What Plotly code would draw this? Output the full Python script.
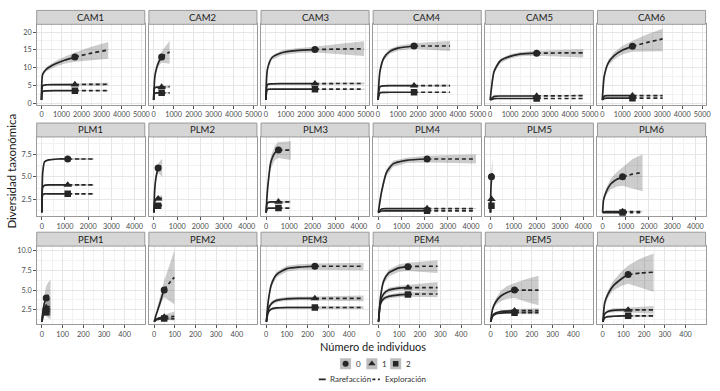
import plotly.graph_objects as go

# ---------------- data ----------------
SITES = ["CAM1", "CAM2", "CAM3", "CAM4", "CAM5", "CAM6",
         "PLM1", "PLM2", "PLM3", "PLM4", "PLM5", "PLM6",
         "PEM1", "PEM2", "PEM3", "PEM4", "PEM5", "PEM6"]

# observed sample size (end of rarefaction / position of the symbol)
N_OBS = [1672, 400, 2459, 1805, 2330, 1510,
         1118, 180, 532, 2105, 45, 862,
         21, 49, 235, 143, 116, 123]

# sample sizes at which curves were read
M = [
    [1, 60, 250, 700, 1150, 1672, 2500, 3344],
    [1, 20, 60, 150, 270, 400, 600, 800],
    [1, 80, 300, 800, 1500, 2459, 3700, 4918],
    [1, 100, 300, 600, 1000, 1805, 2700, 3610],
    [1, 200, 500, 1000, 1500, 2330, 3500, 4660],
    [1, 100, 300, 600, 1000, 1510, 2260, 3020],
    [1, 40, 120, 300, 700, 1118, 1680, 2236],
    [1, 15, 40, 80, 130, 180, 270, 360],
    [1, 40, 100, 200, 380, 532, 800, 1064],
    [1, 140, 355, 640, 1210, 2105, 3150, 4210],
    [1, 5, 12, 22, 34, 45, 68, 90],
    [1, 40, 150, 350, 600, 862, 1290, 1724],
    [1, 3, 6, 10, 15, 21, 32, 42],
    [1, 8, 18, 28, 38, 49, 74, 98],
    [1, 10, 25, 50, 100, 160, 235, 350, 470],
    [1, 10, 25, 50, 100, 143, 215, 286],
    [1, 10, 25, 50, 80, 116, 174, 232],
    [1, 10, 25, 50, 90, 123, 185, 246],
]

# order q = 0
Q0 = [
    [1, 8.2, 9.6, 11.1, 12.1, 13.0, 14.1, 15.0],
    [1, 4.0, 7.5, 10.0, 11.8, 13.0, 13.8, 14.4],
    [1, 9.5, 12.8, 14.2, 14.8, 15.1, 15.25, 15.3],
    [1, 9.0, 12.8, 14.6, 15.5, 16.1, 16.1, 16.1],
    [1, 9.0, 11.9, 13.2, 13.8, 14.1, 14.15, 14.2],
    [1, 7.7, 11.4, 13.4, 14.9, 16.0, 17.1, 18.1],
    [1, 5.5, 6.7, 6.9, 7.0, 7.0, 7.0, 7.0],
    [1, 2.5, 3.8, 4.8, 5.5, 6.0, 6.2, 6.3],
    [1, 2.9, 4.6, 6.6, 7.7, 8.0, 8.0, 8.0],
    [1, 3.3, 5.5, 6.45, 6.85, 7.0, 7.0, 7.0],
    [1, 1.9, 2.8, 3.7, 4.4, 5.0, 5.4, 5.7],
    [1, 2.4, 3.3, 4.2, 4.7, 5.0, 5.3, 5.5],
    [1, 1.8, 2.5, 3.1, 3.6, 4.0, 4.4, 4.6],
    [1, 1.7, 2.5, 3.3, 4.2, 5.0, 5.9, 6.6],
    [1, 3.6, 5.7, 6.95, 7.7, 7.9, 8.0, 8.0, 8.0],
    [1, 4.0, 6.1, 7.16, 7.79, 7.95, 8.0, 8.0],
    [1, 2.6, 3.5, 4.25, 4.7, 5.0, 5.0, 5.0],
    [1, 3.4, 4.45, 5.5, 6.4, 6.95, 7.15, 7.25],
]
Q0_LO = [
    [1, 7.7, 9.0, 10.3, 11.1, 11.7, 12.2, 12.5],
    [1, 3.6, 6.8, 9.0, 10.5, 11.5, 11.3, 11.1],
    [1, 9.0, 12.2, 13.5, 14.1, 14.3, 13.8, 13.3],
    [1, 8.4, 12.1, 13.9, 14.8, 15.3, 15.0, 14.7],
    [1, 8.5, 11.3, 12.6, 13.2, 13.4, 13.2, 12.9],
    [1, 7.2, 10.6, 12.4, 13.7, 14.5, 14.6, 14.6],
    [1, 5.4, 6.6, 6.8, 6.9, 6.9, 6.9, 6.9],
    [1, 2.3, 3.5, 4.4, 5.0, 5.4, 5.2, 5.0],
    [1, 2.6, 4.1, 5.9, 6.9, 7.1, 7.0, 6.9],
    [1, 3.0, 5.1, 6.1, 6.55, 6.6, 6.55, 6.5],
    [1, 1.7, 2.5, 3.3, 3.9, 4.3, 4.3, 4.3],
    [1, 2.2, 2.9, 3.6, 3.9, 4.0, 3.7, 3.4],
    [1, 1.4, 1.6, 1.8, 1.8, 1.7, 1.5, 1.3],
    [1, 1.5, 2.1, 2.8, 3.5, 4.1, 3.6, 3.2],
    [1, 3.3, 5.3, 6.6, 7.35, 7.55, 7.6, 7.55, 7.5],
    [1, 3.7, 5.7, 6.7, 7.3, 7.4, 7.3, 7.16],
    [1, 2.4, 3.1, 3.6, 3.9, 4.0, 3.5, 3.1],
    [1, 3.1, 4.0, 4.9, 5.5, 5.8, 5.3, 4.8],
]
Q0_HI = [
    [1, 8.7, 10.2, 11.9, 13.1, 14.3, 15.9, 17.2],
    [1, 4.4, 8.2, 11.0, 13.1, 14.5, 16.1, 17.6],
    [1, 10.0, 13.4, 14.9, 15.5, 15.9, 16.7, 17.4],
    [1, 9.6, 13.5, 15.3, 16.2, 16.9, 17.2, 17.5],
    [1, 9.5, 12.5, 13.8, 14.4, 14.8, 15.0, 15.2],
    [1, 8.2, 12.2, 14.4, 16.1, 17.6, 19.4, 20.9],
    [1, 5.6, 6.8, 7.0, 7.1, 7.1, 7.1, 7.1],
    [1, 2.7, 4.1, 5.2, 6.0, 6.5, 6.8, 7.0],
    [1, 3.2, 5.1, 7.3, 8.5, 8.9, 8.95, 9.0],
    [1, 3.6, 5.9, 6.8, 7.15, 7.35, 7.45, 7.5],
    [1, 2.1, 3.1, 4.1, 4.9, 5.7, 6.4, 7.0],
    [1, 2.6, 3.7, 4.8, 5.5, 6.1, 7.0, 7.5],
    [1, 2.1, 3.1, 4.0, 4.8, 5.5, 6.0, 6.3],
    [1, 2.0, 3.0, 4.1, 5.1, 6.2, 8.1, 10.0],
    [1, 3.9, 6.1, 7.3, 8.05, 8.25, 8.35, 8.4, 8.45],
    [1, 4.3, 6.5, 7.6, 8.25, 8.45, 8.6, 8.75],
    [1, 2.8, 3.9, 4.9, 5.5, 5.9, 6.4, 6.8],
    [1, 3.7, 4.9, 6.1, 7.3, 8.1, 9.0, 9.6],
]

# order q = 1
Q1 = [
    [1, 5.0, 5.25, 5.3, 5.3, 5.3, 5.35, 5.4],
    [1, 3.8, 4.4, 4.6, 4.6, 4.6, 4.65, 4.7],
    [1, 5.3, 5.5, 5.55, 5.55, 5.55, 5.6, 5.6],
    [1, 4.7, 4.95, 5.0, 5.0, 5.0, 5.0, 5.0],
    [1, 2.0, 2.1, 2.1, 2.1, 2.1, 2.15, 2.2],
    [1, 2.1, 2.2, 2.2, 2.2, 2.2, 2.2, 2.2],
    [1, 3.8, 4.05, 4.1, 4.1, 4.1, 4.1, 4.1],
    [1, 1.9, 2.3, 2.45, 2.5, 2.55, 2.6, 2.6],
    [1, 2.0, 2.15, 2.2, 2.2, 2.2, 2.2, 2.2],
    [1, 1.4, 1.45, 1.45, 1.45, 1.45, 1.45, 1.45],
    [1, 1.6, 2.0, 2.25, 2.4, 2.5, 2.55, 2.6],
    [1, 1.05, 1.1, 1.12, 1.12, 1.12, 1.12, 1.12],
    [1, 1.6, 2.0, 2.3, 2.6, 2.8, 2.9, 3.0],
    [1, 1.25, 1.4, 1.5, 1.55, 1.6, 1.65, 1.7],
    [1, 2.6, 3.3, 3.7, 3.9, 3.95, 3.95, 3.95, 3.95],
    [1, 3.5, 4.5, 5.0, 5.25, 5.3, 5.3, 5.3],
    [1, 1.8, 2.1, 2.3, 2.35, 2.4, 2.4, 2.4],
    [1, 2.0, 2.3, 2.45, 2.5, 2.5, 2.5, 2.5],
]
Q1_LO = [
    [1, 4.8, 5.05, 5.1, 5.1, 5.1, 5.05, 5.0],
    [1, 3.6, 4.2, 4.4, 4.4, 4.4, 4.35, 4.3],
    [1, 5.1, 5.3, 5.35, 5.35, 5.35, 5.3, 5.3],
    [1, 4.5, 4.75, 4.8, 4.8, 4.8, 4.75, 4.7],
    [1, 1.9, 2.0, 2.0, 2.0, 2.0, 2.0, 2.0],
    [1, 2.0, 2.1, 2.1, 2.1, 2.1, 2.05, 2.0],
    [1, 3.7, 3.95, 4.0, 4.0, 4.0, 4.0, 4.0],
    [1, 1.8, 2.15, 2.25, 2.3, 2.3, 2.3, 2.3],
    [1, 1.9, 2.05, 2.1, 2.1, 2.1, 2.05, 2.05],
    [1, 1.35, 1.4, 1.4, 1.4, 1.4, 1.4, 1.4],
    [1, 1.5, 1.8, 2.0, 2.1, 2.2, 2.2, 2.2],
    [1, 1.0, 1.05, 1.05, 1.05, 1.05, 1.05, 1.05],
    [1, 1.4, 1.6, 1.8, 2.0, 2.1, 2.0, 1.9],
    [1, 1.15, 1.25, 1.3, 1.3, 1.3, 1.25, 1.2],
    [1, 2.4, 3.05, 3.45, 3.65, 3.7, 3.7, 3.65, 3.6],
    [1, 3.2, 4.2, 4.7, 4.95, 4.95, 4.9, 4.85],
    [1, 1.7, 1.95, 2.15, 2.2, 2.2, 2.15, 2.1],
    [1, 1.85, 2.1, 2.2, 2.25, 2.2, 2.1, 2.0],
]
Q1_HI = [
    [1, 5.2, 5.45, 5.5, 5.5, 5.5, 5.65, 5.8],
    [1, 4.0, 4.6, 4.8, 4.8, 4.8, 4.95, 5.1],
    [1, 5.5, 5.7, 5.75, 5.75, 5.75, 5.9, 5.9],
    [1, 4.9, 5.15, 5.2, 5.2, 5.2, 5.25, 5.3],
    [1, 2.1, 2.2, 2.2, 2.2, 2.2, 2.3, 2.4],
    [1, 2.2, 2.3, 2.3, 2.3, 2.3, 2.35, 2.4],
    [1, 3.9, 4.15, 4.2, 4.2, 4.2, 4.2, 4.2],
    [1, 2.0, 2.45, 2.65, 2.7, 2.8, 2.9, 2.9],
    [1, 2.1, 2.25, 2.3, 2.3, 2.3, 2.35, 2.35],
    [1, 1.45, 1.5, 1.5, 1.5, 1.5, 1.5, 1.5],
    [1, 1.7, 2.2, 2.5, 2.7, 2.8, 2.9, 3.0],
    [1, 1.1, 1.15, 1.19, 1.19, 1.19, 1.19, 1.19],
    [1, 1.8, 2.4, 2.8, 3.2, 3.5, 3.8, 4.1],
    [1, 1.35, 1.55, 1.7, 1.8, 1.9, 2.1, 2.3],
    [1, 2.8, 3.55, 3.95, 4.15, 4.2, 4.2, 4.25, 4.3],
    [1, 3.8, 4.8, 5.3, 5.55, 5.65, 5.8, 6.0],
    [1, 1.9, 2.25, 2.45, 2.5, 2.6, 2.65, 2.7],
    [1, 2.15, 2.5, 2.7, 2.75, 2.8, 2.9, 3.0],
]

# order q = 2
Q2 = [
    [1, 3.4, 3.55, 3.6, 3.6, 3.6, 3.6, 3.6],
    [1, 2.6, 2.9, 3.0, 3.0, 3.0, 3.0, 3.0],
    [1, 3.9, 4.0, 4.0, 4.0, 4.0, 4.0, 4.0],
    [1, 3.0, 3.1, 3.15, 3.15, 3.15, 3.15, 3.15],
    [1, 1.38, 1.4, 1.4, 1.4, 1.4, 1.4, 1.4],
    [1, 1.45, 1.5, 1.5, 1.5, 1.5, 1.5, 1.5],
    [1, 3.0, 3.1, 3.1, 3.1, 3.1, 3.1, 3.1],
    [1, 1.5, 1.65, 1.72, 1.75, 1.77, 1.8, 1.8],
    [1, 1.4, 1.5, 1.5, 1.5, 1.5, 1.5, 1.5],
    [1, 1.18, 1.2, 1.2, 1.2, 1.2, 1.2, 1.2],
    [1, 1.4, 1.55, 1.65, 1.72, 1.77, 1.8, 1.8],
    [1, 1.0, 1.0, 1.0, 1.0, 1.0, 1.0, 1.0],
    [1, 1.5, 1.8, 2.0, 2.1, 2.2, 2.3, 2.3],
    [1, 1.2, 1.3, 1.35, 1.4, 1.4, 1.4, 1.4],
    [1, 2.2, 2.6, 2.75, 2.8, 2.8, 2.8, 2.8, 2.8],
    [1, 3.2, 3.9, 4.2, 4.4, 4.45, 4.5, 4.5],
    [1, 1.7, 2.0, 2.1, 2.15, 2.15, 2.15, 2.15],
    [1, 1.5, 1.65, 1.7, 1.75, 1.75, 1.75, 1.75],
]
Q2_LO = [
    [1, 3.3, 3.45, 3.5, 3.5, 3.5, 3.45, 3.45],
    [1, 2.5, 2.8, 2.85, 2.85, 2.85, 2.8, 2.8],
    [1, 3.8, 3.9, 3.9, 3.9, 3.9, 3.85, 3.85],
    [1, 2.9, 3.0, 3.05, 3.05, 3.05, 3.0, 3.0],
    [1, 1.33, 1.35, 1.35, 1.35, 1.35, 1.35, 1.35],
    [1, 1.4, 1.45, 1.45, 1.45, 1.45, 1.43, 1.42],
    [1, 2.95, 3.05, 3.05, 3.05, 3.05, 3.05, 3.05],
    [1, 1.45, 1.55, 1.6, 1.62, 1.63, 1.63, 1.62],
    [1, 1.35, 1.45, 1.45, 1.45, 1.45, 1.43, 1.42],
    [1, 1.15, 1.17, 1.17, 1.17, 1.17, 1.17, 1.17],
    [1, 1.3, 1.45, 1.5, 1.55, 1.58, 1.58, 1.57],
    [1, 1.0, 1.0, 1.0, 1.0, 1.0, 1.0, 1.0],
    [1, 1.35, 1.55, 1.7, 1.75, 1.8, 1.75, 1.7],
    [1, 1.12, 1.2, 1.22, 1.25, 1.25, 1.22, 1.2],
    [1, 2.05, 2.45, 2.6, 2.65, 2.65, 2.65, 2.63, 2.62],
    [1, 2.95, 3.65, 3.95, 4.1, 4.15, 4.15, 4.1],
    [1, 1.6, 1.9, 2.0, 2.02, 2.02, 1.98, 1.95],
    [1, 1.42, 1.55, 1.6, 1.63, 1.62, 1.6, 1.58],
]
Q2_HI = [
    [1, 3.5, 3.65, 3.7, 3.7, 3.7, 3.75, 3.75],
    [1, 2.7, 3.0, 3.15, 3.15, 3.15, 3.2, 3.2],
    [1, 4.0, 4.1, 4.1, 4.1, 4.1, 4.15, 4.15],
    [1, 3.1, 3.2, 3.25, 3.25, 3.25, 3.3, 3.3],
    [1, 1.43, 1.45, 1.45, 1.45, 1.45, 1.45, 1.45],
    [1, 1.5, 1.55, 1.55, 1.55, 1.55, 1.57, 1.58],
    [1, 3.05, 3.15, 3.15, 3.15, 3.15, 3.15, 3.15],
    [1, 1.55, 1.75, 1.84, 1.88, 1.91, 1.97, 1.98],
    [1, 1.45, 1.55, 1.55, 1.55, 1.55, 1.57, 1.58],
    [1, 1.21, 1.23, 1.23, 1.23, 1.23, 1.23, 1.23],
    [1, 1.5, 1.65, 1.8, 1.89, 1.96, 2.02, 2.03],
    [1, 1.0, 1.0, 1.0, 1.0, 1.0, 1.0, 1.0],
    [1, 1.65, 2.05, 2.3, 2.45, 2.6, 2.85, 2.9],
    [1, 1.28, 1.4, 1.48, 1.55, 1.55, 1.58, 1.6],
    [1, 2.35, 2.75, 2.9, 2.95, 2.95, 2.95, 2.97, 2.98],
    [1, 3.45, 4.15, 4.45, 4.7, 4.75, 4.85, 4.9],
    [1, 1.8, 2.1, 2.2, 2.28, 2.28, 2.32, 2.35],
    [1, 1.58, 1.75, 1.8, 1.87, 1.88, 1.9, 1.92],
]

X_TICK_STEP = [1000, 1000, 100]          # per facet row
Y_TICK_STEP = [5, 2.5, 2.5]
ORDER_LABELS = ["0", "1", "2"]
METHOD_LABELS = ["Rarefacción", "Exploración"]
X_TITLE = "Número de individuos"
Y_TITLE = "Diversidad taxonómica"

# ---------------- styling / layout geometry ----------------
W, H = 720, 391
FONT = "Lato"
COL_LEFT = [37 + 113.1 * c for c in range(6)]
PANEL_W = 109
STRIP_TOP = [10.5, 124, 234]
PANEL_TOP = [24.5, 138, 248]
PANEL_BOT = [106, 218, 327]
X_RANGE = [[-240, 5170], [-220, 4440], [-25, 497]]
Y_RANGE = [[-0.47, 22.17], [0.58, 9.47], [0.66, 10.54]]
Y_FMT = ["d", ".1f", ".1f"]

LINE_C = "#262626"
BAND_C = "rgba(0,0,0,0.2)"
BORDER_C = "#9a9a9a"
SYMBOLS = ["circle", "triangle-up", "square"]
SYM_SIZE = [7, 7.5, 6.5]


def px(x):
    return x / W


def py(y):
    return 1 - y / H


fig = go.Figure()
layout = dict(
    width=W, height=H, margin=dict(l=0, r=0, t=0, b=0, pad=0),
    paper_bgcolor="white", plot_bgcolor="white", showlegend=False,
    font=dict(family=FONT, color="#1a1a1a"),
)
shapes = []
annotations = []

ORDERS = [(Q0, Q0_LO, Q0_HI), (Q1, Q1_LO, Q1_HI), (Q2, Q2_LO, Q2_HI)]

for i, site in enumerate(SITES):
    r, c = divmod(i, 6)
    k = i + 1
    xa = "xaxis" if k == 1 else f"xaxis{k}"
    ya = "yaxis" if k == 1 else f"yaxis{k}"
    xr = "x" if k == 1 else f"x{k}"
    yr = "y" if k == 1 else f"y{k}"
    x0, x1 = COL_LEFT[c], COL_LEFT[c] + PANEL_W
    layout[xa] = dict(
        domain=[px(x0), px(x1)], anchor=yr, range=X_RANGE[r],
        tickmode="linear", tick0=0, dtick=X_TICK_STEP[r],
        showgrid=True, gridcolor="#e6e6e6", gridwidth=0.8,
        minor=dict(tickmode="linear", tick0=0, dtick=X_TICK_STEP[r] / 2,
                   showgrid=True, gridcolor="#f2f2f2", gridwidth=0.6),
        zeroline=False, showline=True, mirror=True, linecolor=BORDER_C, linewidth=1,
        ticks="outside", ticklen=2.5, tickcolor="#555", tickwidth=0.8,
        tickfont=dict(size=7.3, color="#4d4d4d", family=FONT),
        fixedrange=True,
    )
    layout[ya] = dict(
        domain=[py(PANEL_BOT[r]), py(PANEL_TOP[r])], anchor=xr, range=Y_RANGE[r],
        tickmode="linear", tick0=0, dtick=Y_TICK_STEP[r], tickformat=Y_FMT[r],
        showgrid=True, gridcolor="#e6e6e6", gridwidth=0.8,
        minor=dict(tickmode="linear", tick0=0, dtick=Y_TICK_STEP[r] / 2,
                   showgrid=True, gridcolor="#f2f2f2", gridwidth=0.6),
        zeroline=False, showline=True, mirror=True, linecolor=BORDER_C, linewidth=1,
        ticks="outside" if c == 0 else "", ticklen=2.5, tickcolor="#555", tickwidth=0.8,
        showticklabels=(c == 0),
        tickfont=dict(size=7.3, color="#4d4d4d", family=FONT),
        fixedrange=True,
    )
    # strip
    shapes.append(dict(type="rect", xref="paper", yref="paper",
                       x0=px(x0), x1=px(x1), y0=py(PANEL_TOP[r]), y1=py(STRIP_TOP[r]),
                       fillcolor="#d6d6d6", line=dict(color=BORDER_C, width=1), layer="above"))
    annotations.append(dict(text=site, xref="paper", yref="paper",
                            x=px((x0 + x1) / 2), y=py((STRIP_TOP[r] + PANEL_TOP[r]) / 2),
                            showarrow=False, xanchor="center", yanchor="middle",
                            font=dict(size=9.5, color="#1a1a1a", family=FONT)))

    m = M[i]
    n = N_OBS[i]
    j_obs = m.index(n)
    # bands
    for (vals, lo, hi) in ORDERS:
        l, h = lo[i], hi[i]
        fig.add_trace(go.Scatter(
            x=m + m[::-1], y=h + l[::-1], xaxis=xr, yaxis=yr,
            mode="lines", fill="toself", fillcolor=BAND_C,
            line=dict(width=0), hoverinfo="skip"))
    # lines
    for (vals, lo, hi) in ORDERS:
        v = vals[i]
        fig.add_trace(go.Scatter(
            x=m[:j_obs + 1], y=v[:j_obs + 1], xaxis=xr, yaxis=yr, mode="lines",
            line=dict(color=LINE_C, width=1.7, shape="spline", smoothing=0.6)))
        fig.add_trace(go.Scatter(
            x=m[j_obs:], y=v[j_obs:], xaxis=xr, yaxis=yr, mode="lines",
            line=dict(color=LINE_C, width=1.7, dash="4px,3px", shape="spline", smoothing=0.6)))
    # observed points
    for q, (vals, lo, hi) in enumerate(ORDERS):
        fig.add_trace(go.Scatter(
            x=[n], y=[vals[i][j_obs]], xaxis=xr, yaxis=yr, mode="markers",
            marker=dict(symbol=SYMBOLS[q], size=SYM_SIZE[q], color=LINE_C,
                        line=dict(width=0))))

# ---------------- titles ----------------
annotations.append(dict(text=X_TITLE, xref="paper", yref="paper", x=px(376), y=py(349.5),
                        showarrow=False, xanchor="center", yanchor="middle",
                        font=dict(size=11, color="#1a1a1a", family=FONT)))
annotations.append(dict(text=Y_TITLE, xref="paper", yref="paper", x=px(12), y=py(172),
                        showarrow=False, xanchor="center", yanchor="middle", textangle=-90,
                        font=dict(size=11.5, color="#1a1a1a", family=FONT)))

# ---------------- legend (own small axis below the panels, pixel units) ----------------
LEG_TOP = 356
layout["xaxis19"] = dict(domain=[0, 1], range=[0, W], visible=False, fixedrange=True, anchor="y19")
layout["yaxis19"] = dict(domain=[0, py(LEG_TOP)], range=[H, LEG_TOP], visible=False,
                         fixedrange=True, anchor="x19")
LEG_Y1, LEG_Y2 = 366.5, 382.3
key_x = [348.5, 375, 399]
for q in range(3):
    # grey key background (band swatch)
    fig.add_trace(go.Scatter(x=[key_x[q]], y=[LEG_Y1], xaxis="x19", yaxis="y19", mode="markers",
                             marker=dict(symbol="square", size=11, color="#bdbdbd",
                                         line=dict(width=0))))
    fig.add_trace(go.Scatter(x=[key_x[q]], y=[LEG_Y1], xaxis="x19", yaxis="y19", mode="markers",
                             marker=dict(symbol=SYMBOLS[q], size=SYM_SIZE[q] - 1, color=LINE_C)))
    annotations.append(dict(text=ORDER_LABELS[q], xref="paper", yref="paper",
                            x=px(key_x[q] + 8), y=py(LEG_Y1), showarrow=False,
                            xanchor="left", yanchor="middle",
                            font=dict(size=8, color="#333", family=FONT)))
fig.add_trace(go.Scatter(x=[321.5, 328.5], y=[LEG_Y2, LEG_Y2], xaxis="x19", yaxis="y19",
                         mode="lines", line=dict(color=LINE_C, width=1.7)))
fig.add_trace(go.Scatter(x=[375.5, 383], y=[LEG_Y2, LEG_Y2], xaxis="x19", yaxis="y19",
                         mode="lines", line=dict(color=LINE_C, width=1.7, dash="3px,2.5px")))
annotations.append(dict(text=METHOD_LABELS[0], xref="paper", yref="paper", x=px(330.5), y=py(LEG_Y2),
                        showarrow=False, xanchor="left", yanchor="middle",
                        font=dict(size=8, color="#333", family=FONT)))
annotations.append(dict(text=METHOD_LABELS[1], xref="paper", yref="paper", x=px(386.5), y=py(LEG_Y2),
                        showarrow=False, xanchor="left", yanchor="middle",
                        font=dict(size=8, color="#333", family=FONT)))

layout["shapes"] = shapes
layout["annotations"] = annotations
fig.update_layout(**layout)
fig.write_html("out.html", config={"displayModeBar": False},
               post_script="document.body.style.margin='0';document.body.style.padding='0';")
